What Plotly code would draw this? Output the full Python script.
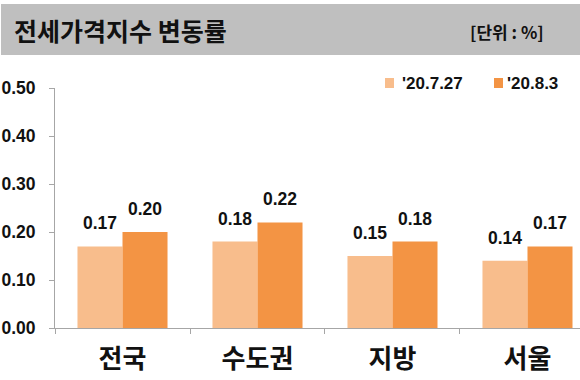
import plotly.graph_objects as go

categories = ["전국", "수도권", "지방", "서울"]
series_names = ["'20.7.27", "'20.8.3"]
values_0727 = [0.17, 0.18, 0.15, 0.14]
values_0803 = [0.20, 0.22, 0.18, 0.17]
y_ticks = [0.0, 0.1, 0.2, 0.3, 0.4, 0.5]

colors = ["#F8BD8C", "#F39444"]
num_font = "Liberation Sans, Arial, sans-serif"
kr_font = "Noto Sans CJK KR, sans-serif"

L, T, B, W, H = 55, 88, 52, 580, 380
pw = W - L
ph = H - T - B
x_range = [-0.5, 3.389]
bargap = 0.333
cat_px = pw / (x_range[1] - x_range[0])
bar_px = cat_px * (1 - bargap) / 2

def px(x):
    return (x - L) / pw

def py(y):
    return (H - B - y) / ph

fig = go.Figure()
for i, (name, vals, col) in enumerate(zip(series_names, [values_0727, values_0803], colors)):
    fig.add_trace(go.Bar(
        x=categories, y=vals, name=name,
        marker=dict(color=col, line=dict(width=0)),
        showlegend=False, hoverinfo="skip",
    ))
    for c, v in zip(categories, vals):
        fig.add_annotation(x=c, y=v, xref="x", yref="y", showarrow=False,
                           xshift=(i - 0.5) * bar_px, yshift=11,
                           yanchor="bottom", xanchor="center",
                           text=f"<b>{v:.2f}</b>",
                           font=dict(family=num_font, size=17.5, color="#111111"))

# title bar
fig.add_shape(type="rect", xref="paper", yref="paper",
              x0=px(1), x1=px(580), y0=py(55), y1=py(4),
              fillcolor="#BFBFBF", line=dict(width=0), layer="below")
fig.add_annotation(xref="paper", yref="paper", x=px(12), y=py(30),
                   xanchor="left", yanchor="middle", showarrow=False,
                   text="<b>전세가격지수 변동률</b>",
                   font=dict(family=kr_font, size=25, color="#111111"))
fig.add_annotation(xref="paper", yref="paper", x=px(546), y=py(32),
                   xanchor="right", yanchor="middle", showarrow=False,
                   text="<b>[단위 : %]</b>",
                   font=dict(family=kr_font, size=17, color="#111111"))

# legend
legend_sq = [(385, 394), (494, 503)]
legend_tx = [400, 505]
for name, col, (sx0, sx1), tx in zip(series_names, colors, legend_sq, legend_tx):
    fig.add_shape(type="rect", xref="paper", yref="paper",
                  x0=px(sx0), x1=px(sx1), y0=py(88), y1=py(78),
                  fillcolor=col, line=dict(width=0))
    fig.add_annotation(xref="paper", yref="paper", x=px(tx), y=py(83),
                       xanchor="left", yanchor="middle", showarrow=False,
                       text=f"<b>{name}</b>",
                       font=dict(family=num_font, size=17, color="#111111"))

fig.update_layout(
    width=W, height=H,
    margin=dict(l=L, r=0, t=T, b=B),
    paper_bgcolor="white", plot_bgcolor="white",
    barmode="group", bargap=bargap, bargroupgap=0,
    showlegend=False,
    xaxis=dict(range=x_range, showline=True, linecolor="#A6A6A6", linewidth=1,
               ticks="outside", tickson="boundaries", ticklen=5, tickcolor="#A6A6A6",
               showgrid=False, ticklabelstandoff=8, fixedrange=True,
               tickfont=dict(family=kr_font, size=26, color="#111111", weight="bold")),
    yaxis=dict(range=[0, 0.5], tickvals=y_ticks, tickformat=".2f",
               showline=True, linecolor="#A6A6A6", linewidth=1,
               ticks="outside", ticklen=5, tickcolor="#A6A6A6",
               showgrid=False, zeroline=False, ticklabelstandoff=10, fixedrange=True,
               tickfont=dict(family=num_font, size=17.5, color="#111111", weight="bold")),
)

fig.write_html("out.html", config={"displayModeBar": False},
               post_script="document.body.style.margin='0px';document.body.style.padding='0px';")
